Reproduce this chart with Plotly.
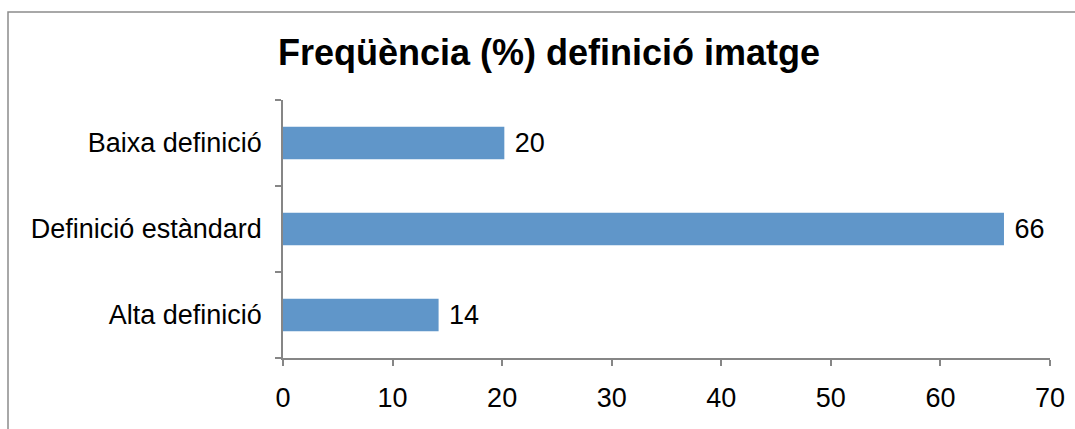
import plotly.graph_objects as go

categories = ["Alta definició", "Definició estàndard", "Baixa definició"]
values = [14.2, 65.8, 20.2]
labels = ["14", "66", "20"]
x_ticks = [0, 10, 20, 30, 40, 50, 60, 70]

W, H = 1075, 429
L, R, T, B = 283, 25, 100, 71
pw = W - L - R
ph = H - T - B
FONT = "Liberation Sans, Arial, sans-serif"

fig = go.Figure(go.Bar(
    y=categories, x=values, orientation="h",
    marker=dict(color="#6096C9", line=dict(width=0)),
    text=[" " + s for s in labels], textposition="outside",
    textfont=dict(size=27, color="#000000", family=FONT),
    cliponaxis=False, width=0.38,
))

fig.update_layout(
    width=W, height=H,
    margin=dict(l=L, r=R, t=T, b=B, autoexpand=False),
    plot_bgcolor="white", paper_bgcolor="white",
    font=dict(family=FONT, size=27, color="#000000"),
    title=dict(text="<b>Freqüència (%) definició imatge</b>", x=549 / W, xanchor="center",
               y=1 - 52 / H, yanchor="middle", font=dict(size=36)),
    showlegend=False,
    uniformtext=dict(minsize=27),
    xaxis=dict(range=[0, 70], tickvals=x_ticks, showgrid=False, zeroline=False,
               showline=True, linecolor="#868686", linewidth=1.5, automargin=False,
               ticks="outside", ticklen=6, tickcolor="#868686", tickwidth=1.5,
               ticklabelstandoff=9, tickfont=dict(size=27)),
    yaxis=dict(categoryorder="array", categoryarray=categories, showgrid=False,
               showline=True, linecolor="#868686", linewidth=1.5, automargin=False,
               ticks="outside", ticklen=6, tickcolor="#868686", tickwidth=1.5,
               tickson="boundaries", ticklabelstandoff=14, tickfont=dict(size=27)),
    shapes=[dict(type="rect", xref="paper", yref="paper",
                 x0=(8 - L) / pw, x1=(W + 20 - L) / pw,
                 y0=-(H + 20 - (T + ph)) / ph, y1=1 + (T - 12) / ph,
                 line=dict(color="#8c8c8c", width=1.5), layer="below")],
)

fig.write_html("out.html")
